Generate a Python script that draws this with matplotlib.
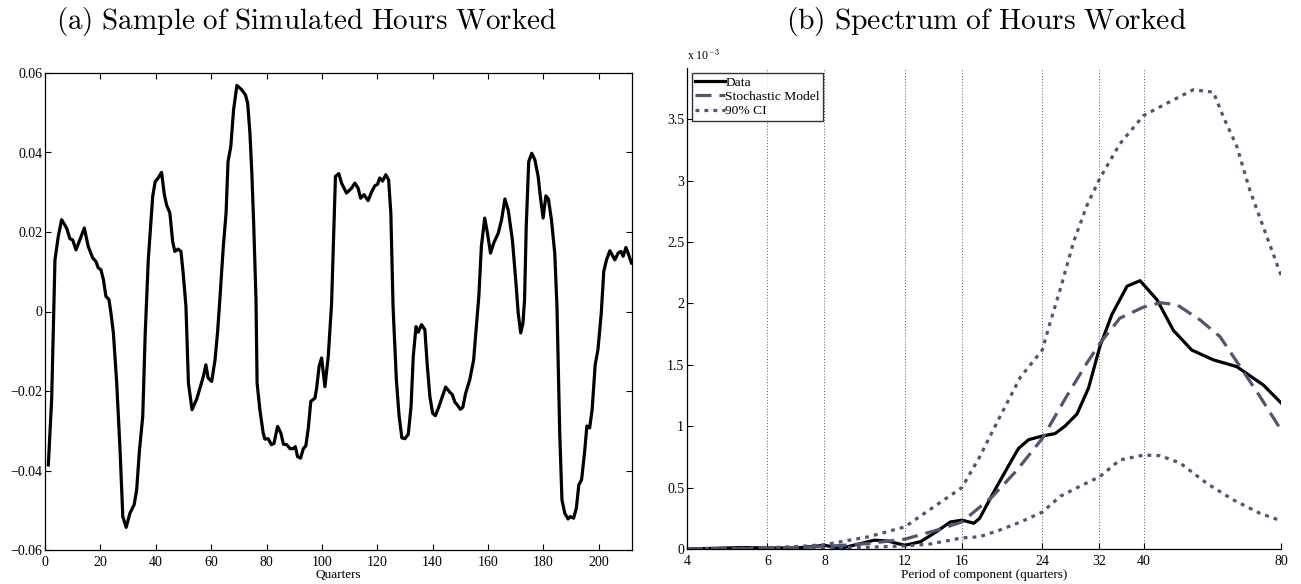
import matplotlib
matplotlib.use("Agg")
import matplotlib.pyplot as plt
from matplotlib.ticker import FuncFormatter, NullLocator

plt.rcParams['font.family'] = ['Liberation Serif', 'DejaVu Serif']
plt.rcParams['mathtext.fontset'] = 'cm'
plt.rcParams['axes.unicode_minus'] = True

# (a) simulated hours worked
quarters = [1.2, 2.4, 3.6, 4.8, 6.0, 7.8, 9.0, 10.0, 11.2, 14.2, 15.6, 17.2, 18.4, 19.2, 20.2,
            21.1, 22.0, 23.1, 23.8, 24.7, 25.9, 27.1, 28.1, 29.3, 30.7, 32.2, 33.1, 34.1, 35.3,
            36.2, 37.3, 38.9, 39.8, 40.9, 42.1, 43.1, 43.9, 45.1, 46.1, 46.9, 48.1, 49.1, 49.9,
            50.9, 51.8, 53.1, 54.8, 56.0, 57.2, 58.1, 58.9, 60.2, 61.4, 62.3, 63.1, 64.4, 65.4,
            66.1, 67.1, 68.1, 69.3, 71.0, 72.4, 73.2, 74.0, 74.7, 75.4, 76.2, 76.6, 77.6, 78.8,
            79.4, 80.6, 81.8, 82.7, 84.0, 85.2, 86.1, 87.3, 88.5, 89.7, 90.4, 91.2, 92.3, 93.3,
            94.2, 95.1, 96.0, 97.5, 98.1, 99.0, 99.9, 101.1, 102.3, 103.5, 104.9, 106.1, 107.1,
            108.9, 110.7, 111.9, 113.1, 114.0, 115.2, 116.7, 117.9, 119.1, 120.1, 120.9, 121.9,
            123.1, 124.1, 124.9, 125.7, 126.9, 127.9, 128.9, 130.0, 131.2, 132.2, 133.0, 134.0,
            134.8, 136.0, 137.2, 138.0, 139.0, 140.0, 141.0, 142.3, 143.5, 144.7, 146.2, 147.1,
            148.1, 148.9, 150.0, 150.9, 151.9, 153.4, 154.8, 155.8, 156.7, 157.6, 158.8, 159.8,
            160.9, 162.1, 163.7, 164.9, 166.1, 167.3, 168.8, 170.0, 170.9, 171.8, 172.6, 173.2,
            173.8, 174.7, 175.8, 176.9, 178.1, 178.9, 179.9, 180.9, 181.8, 182.9, 184.1, 184.9,
            185.9, 186.7, 187.7, 188.9, 189.7, 190.9, 191.9, 192.8, 193.8, 194.9, 195.7, 196.7,
            197.6, 198.7, 199.7, 200.9, 201.8, 202.8, 204.0, 205.8, 207.0, 208.0, 208.8, 209.8,
            210.6, 211.8]
hours = [-0.0386, -0.0222, 0.0130, 0.0189, 0.0231, 0.0210, 0.0183, 0.0180, 0.0155, 0.0210, 0.0164,
         0.0135, 0.0126, 0.0110, 0.0105, 0.0080, 0.0038, 0.0030, -0.0003, -0.0054, -0.0180, -0.0348,
         -0.0516, -0.0543, -0.0507, -0.0486, -0.0449, -0.0350, -0.0264, -0.0054, 0.0130, 0.0290,
         0.0327, 0.0336, 0.0350, 0.0294, 0.0268, 0.0248, 0.0176, 0.0151, 0.0157, 0.0151, 0.0097,
         0.0013, -0.0180, -0.0247, -0.0220, -0.0192, -0.0163, -0.0134, -0.0167, -0.0176, -0.0122,
         -0.0054, 0.0025, 0.0164, 0.0248, 0.0377, 0.0415, 0.0507, 0.0569, 0.0558, 0.0545, 0.0524,
         0.0450, 0.0349, 0.0214, 0.0030, -0.0180, -0.0247, -0.0306, -0.0321, -0.0320, -0.0335,
         -0.0332, -0.0289, -0.0306, -0.0334, -0.0335, -0.0345, -0.0345, -0.0340, -0.0365, -0.0369,
         -0.0345, -0.0338, -0.0293, -0.0226, -0.0218, -0.0193, -0.0138, -0.0117, -0.0189, -0.0113,
         0.0020, 0.0340, 0.0347, 0.0323, 0.0298, 0.0310, 0.0323, 0.0310, 0.0285, 0.0294, 0.0279,
         0.0300, 0.0316, 0.0320, 0.0336, 0.0328, 0.0344, 0.0331, 0.0248, 0.0013, -0.0172, -0.0264,
         -0.0318, -0.0320, -0.0309, -0.0239, -0.0113, -0.0038, -0.0052, -0.0033, -0.0046, -0.0130,
         -0.0214, -0.0256, -0.0262, -0.0239, -0.0214, -0.0190, -0.0203, -0.0209, -0.0229, -0.0235,
         -0.0246, -0.0241, -0.0206, -0.0172, -0.0122, -0.0038, 0.0040, 0.0164, 0.0235, 0.0197,
         0.0147, 0.0173, 0.0197, 0.0231, 0.0283, 0.0255, 0.0180, 0.0080, -0.0004, -0.0054, -0.0030,
         0.0030, 0.0214, 0.0377, 0.0398, 0.0382, 0.0340, 0.0289, 0.0235, 0.0291, 0.0283, 0.0231,
         0.0147, 0.0013, -0.0306, -0.0474, -0.0507, -0.0522, -0.0516, -0.0520, -0.0495, -0.0436,
         -0.0423, -0.0352, -0.0288, -0.0293, -0.0247, -0.0134, -0.0096, -0.0004, 0.0101, 0.0130,
         0.0153, 0.0130, 0.0147, 0.0151, 0.0139, 0.0161, 0.0147, 0.0122]

# (b) spectrum, values in units of 1e-3
data_period = [4, 5.3, 6, 7, 8, 8.7, 9.5, 10.3, 11, 12, 13, 13.9, 15.1, 16, 17, 17.5, 18.7, 20.4,
               21.3, 22.4, 24, 25.6, 26.9, 28.6, 30.3, 32.1, 34.1, 36.8, 39.3, 42.8, 46.5, 51,
               56.9, 64, 73.2, 80]
data_spec = [0.0, 0.012, 0.008, 0.01, 0.03, 0.006, 0.04, 0.072, 0.065, 0.03, 0.06, 0.128, 0.22,
             0.235, 0.21, 0.25, 0.45, 0.70, 0.82, 0.89, 0.92, 0.94, 1.0, 1.10, 1.31, 1.65, 1.91,
             2.14, 2.185, 2.03, 1.78, 1.62, 1.54, 1.485, 1.335, 1.19]
model_period = [4, 6, 8, 10, 12, 14, 16, 18.7, 21.1, 24, 27.1, 30, 32.1, 35.5, 40, 43.5, 47.3,
                53.2, 58.8, 65.1, 72, 80]
model_spec = [0.0, 0.005, 0.02, 0.045, 0.08, 0.15, 0.22, 0.43, 0.64, 0.90, 1.24, 1.51, 1.675,
              1.88, 1.97, 2.005, 1.99, 1.865, 1.73, 1.485, 1.24, 0.97]
ci_hi_period = [4, 5, 6, 7, 8, 10, 12, 13.6, 16, 17.5, 19.4, 21.5, 24, 25, 26.3, 28.1, 30,
                32.1, 35.5, 40, 45, 51.4, 56.9, 59.8, 64, 68.4, 73.2, 80]
ci_hi = [0.0, 0.005, 0.01, 0.02, 0.035, 0.1, 0.18, 0.32, 0.50, 0.75, 1.08, 1.40, 1.62, 1.85, 2.12,
         2.50, 2.79, 3.02, 3.30, 3.53, 3.63, 3.74, 3.72, 3.52, 3.28, 2.92, 2.62, 2.23]
ci_lo_period = [4, 6, 8, 10, 12, 13.6, 16, 17.5, 19.4, 21.5, 24, 26.3, 29, 32.1, 35.5, 40, 43.5,
                48.1, 55, 62.9, 72, 80]
ci_lo = [0.0, 0.003, 0.008, 0.015, 0.025, 0.04, 0.09, 0.10, 0.155, 0.22, 0.30, 0.43, 0.51, 0.59,
         0.725, 0.765, 0.76, 0.70, 0.535, 0.40, 0.29, 0.23]
period_ticks = [4, 6, 8, 12, 16, 24, 32, 40, 80]

model_col = '#4f5573'
fmt = FuncFormatter(lambda v, pos: ('%g' % round(v, 4)).replace('-', '\u2212'))

fig = plt.figure(figsize=(13.01, 5.84), dpi=100)

# ---- (a)
ax1 = fig.add_axes([45/1301, 34/584, 587/1301, 477/584])
ax1.plot(quarters, hours, color='black', lw=2.3)
ax1.set_xlim(0, 212)
ax1.set_ylim(-0.06, 0.06)
ax1.set_xticks(range(0, 201, 20))
ax1.set_yticks([-0.06, -0.04, -0.02, 0, 0.02, 0.04, 0.06])
ax1.yaxis.set_major_formatter(fmt)
ax1.tick_params(direction='in', top=True, right=True, length=4, width=0.8,
                labelsize=10, pad=2)
ax1.tick_params(axis='x', pad=4)
ax1.set_xlabel('Quarters', fontsize=9.5, labelpad=0)
for s in ax1.spines.values():
    s.set_linewidth(0.9)

# ---- (b)
ax2 = fig.add_axes([687/1301, 35/584, 594/1301, 481/584])
ax2.set_xscale('log')
for p in period_ticks:
    ax2.axvline(p, color='#555555', lw=0.7, ls=(0, (1, 2)), zorder=0)
ax2.plot(data_period, data_spec, color='black', lw=2.3, label='Data')
ax2.plot(model_period, model_spec, color=model_col, lw=2.3, ls=(0, (5, 2.5)),
         label='Stochastic Model')
ax2.plot(ci_hi_period, ci_hi, color=model_col, lw=2.3, ls=(0, (1.2, 1.6)), label='90% CI')
ax2.plot(ci_lo_period, ci_lo, color=model_col, lw=2.3, ls=(0, (1.2, 1.6)))
ax2.set_xlim(4, 80)
ax2.set_ylim(0, 3.917)
ax2.set_xticks(period_ticks)
ax2.set_xticklabels([str(p) for p in period_ticks])
ax2.xaxis.set_minor_locator(NullLocator())
ax2.set_yticks([0, 0.5, 1, 1.5, 2, 2.5, 3, 3.5])
ax2.yaxis.set_major_formatter(fmt)
ax2.spines['top'].set_visible(False)
ax2.spines['right'].set_visible(False)
for s in ax2.spines.values():
    s.set_linewidth(0.9)
ax2.tick_params(direction='in', length=4, width=0.8, labelsize=10, pad=2)
ax2.tick_params(axis='x', pad=4)
ax2.set_xlabel('Period of component (quarters)', fontsize=9.5, labelpad=1)
ax2.text(0, 1.012, r'x 10$^{-3}$', transform=ax2.transAxes, fontsize=8.5,
         ha='left', va='bottom')
leg = ax2.legend(loc='upper left', fontsize=9.7, frameon=True, fancybox=False,
                 edgecolor='black', handlelength=2.2, handletextpad=0.05,
                 borderpad=0.25, labelspacing=0.15, borderaxespad=0.35)
leg.get_frame().set_linewidth(1.0)

# subfigure captions
fig.text(56/1301, 1 - 22/584, r'$\mathrm{(a)\ Sample\ of\ Simulated\ Hours\ Worked}$',
         fontsize=21, ha='left', va='center')
fig.text(786/1301, 1 - 22/584, r'$\mathrm{(b)\ Spectrum\ of\ Hours\ Worked}$',
         fontsize=21.3, ha='left', va='center')

fig.savefig('out.png', dpi=100)
